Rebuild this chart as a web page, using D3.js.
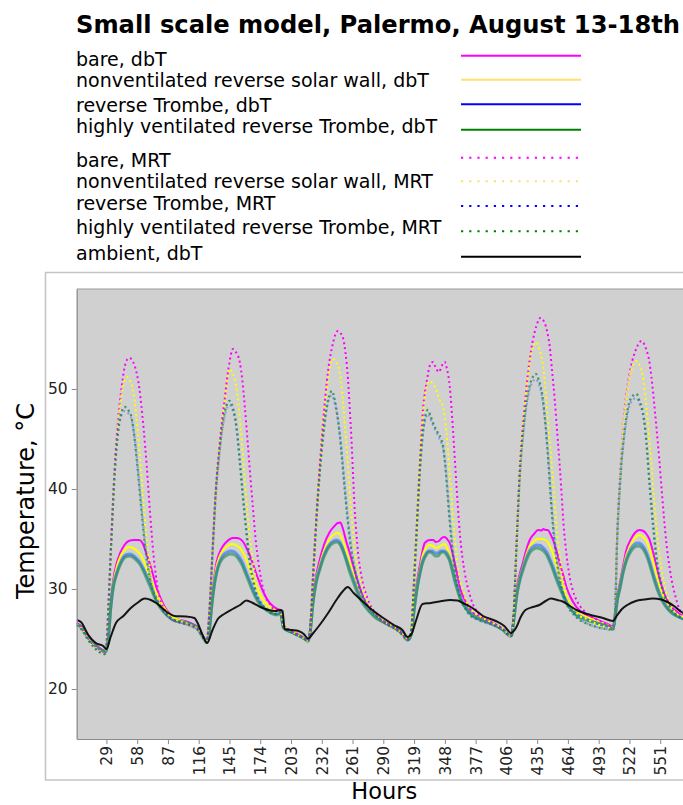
<!DOCTYPE html>
<html><head><meta charset="utf-8">
<script src="https://cdn.jsdelivr.net/npm/d3@7"></script>
<style>
body{margin:0;background:#fff;}
svg{display:block;font-family:"DejaVu Sans",sans-serif;}
</style>
</head><body>
<svg id="chart" width="683" height="805"></svg>
<script>
// ---------------- DATA ----------------
const chartTitle = "Small scale model, Palermo, August 13-18th";
const xLabel = "Hours";
const yLabel = "Temperature, °C";
const xTickValues = [29,58,87,116,145,174,203,232,261,290,319,348,377,406,435,464,493,522,551];
const yTickValues = [20,30,40,50];
const xDomain = [1, 577];
const yDomain = [15, 60];

const seriesLabels = [
  "bare, dbT",
  "nonventilated reverse solar wall, dbT",
  "reverse Trombe, dbT",
  "highly ventilated reverse Trombe, dbT",
  "bare, MRT",
  "nonventilated reverse solar wall, MRT",
  "reverse Trombe, MRT",
  "highly ventilated reverse Trombe, MRT",
  "ambient, dbT"
];

// [hour, °C]
const bareDbT = [[1,26.6],[6,26.2],[12,25.2],[18,24.5],[24,24.0],[28,23.8],[29.5,24.2],[31,25.4],[33,28.4],[35.5,30.9],[38.5,32.5],[42,33.6],[46,34.4],[50,34.8],[55,34.9],[60,34.9],[63,34.6],[66.5,33.6],[70,32.5],[73,31.4],[76,30.2],[79.5,29.2],[84,28.2],[89,27.5],[95,27.0],[103,26.8],[110,26.5],[116,26.1],[120,25.3],[123.5,24.8],
[126,26.0],[128,28.5],[130.5,31.0],[132.7,32.6],[135.5,33.6],[138.9,34.3],[143,34.8],[148,35.1],[152,35.1],[155,35.0],[158,34.7],[161,34.1],[164,33.4],[167.2,32.5],[170,31.6],[173.5,30.6],[176.5,29.8],[179.8,29.1],[183,28.6],[186,28.3],[190,28.0],[193,27.9],[196,26.3],[203,25.8],[211,25.4],[216,25.0],[219,24.8],
[221,25.7],[223.7,29.0],[226.5,31.2],[230,32.9],[234,34.4],[239.5,35.7],[244,36.3],[247,36.6],[249.5,36.65],[252,36.0],[255,34.8],[258.4,33.6],[261.5,32.4],[264.7,31.2],[268,30.1],[270.9,29.2],[275,28.3],[280.3,27.5],[286,27.0],[293,26.6],[300,26.2],[307,25.6],[313,25.0],
[316.5,25.6],[318.5,27.8],[321.5,30.5],[324.3,32.3],[327,33.8],[329,34.6],[333.7,34.9],[337,34.9],[339.5,34.7],[342.5,34.8],[345,35.1],[347.9,35.2],[350,35.0],[352.6,34.6],[355,33.7],[357.3,32.6],[360,31.3],[362.1,30.2],[365,29.3],[368.4,28.6],[374.5,27.6],[381,27.2],[393,26.6],[403,26.0],[410,25.3],
[411,25.4],[413,27.3],[416,30.2],[418.8,31.6],[421.7,32.7],[425,34.0],[428,34.9],[432,35.5],[436,35.9],[439,35.85],[441,36.0],[443,35.9],[445,35.9],[447.5,35.5],[450,34.9],[453,33.9],[456.3,32.6],[459.5,31.4],[462.6,30.2],[466,29.3],[472,28.2],[481.4,27.4],[494,26.8],[503.4,26.4],[506.5,26.2],
[508.5,27.5],[510.5,29.3],[513,30.6],[516,32.3],[519.1,33.9],[523,34.9],[527,35.6],[531.4,35.9],[535,35.8],[538,35.5],[541.1,34.9],[544,33.8],[547.4,32.3],[550.5,31.0],[553.6,29.9],[557,29.0],[561.6,28.2],[566,27.8],[571,27.4],[577,27.2]];

const nonventDbT = [[1,26.5],[6,26.1],[12,25.1],[18,24.4],[24,23.9],[28,23.7],[29.5,24.1],[31,25.3],[33,28.2],[35.5,30.6],[38.5,32.1],[42,33.2],[46,33.9],[50,34.2],[54,34.1],[58,33.8],[62,33.3],[66,32.3],[69.8,31.2],[73,30.3],[76.2,29.6],[82.5,28.3],[88,27.5],[95,27.0],[103,26.7],[110,26.4],[116,26.0],[120,25.2],[123.5,24.8],
[126,25.9],[128,28.3],[130.5,30.7],[132.7,32.2],[135.5,33.2],[138.9,33.9],[143,34.3],[147,34.5],[151,34.4],[155,34.1],[158,33.6],[161,32.9],[164,32.0],[167.2,31.1],[170,30.3],[173.5,29.5],[177,28.9],[181,28.4],[186,28.0],[190,27.8],[193,27.8],[196,26.3],[203,25.8],[211,25.4],[216,25.0],[219,24.8],
[221,25.6],[223.7,28.8],[226.5,30.9],[230,32.4],[234,33.8],[239.5,35.0],[244,35.5],[247,35.6],[249.5,35.4],[252,34.8],[255,33.8],[258.4,32.6],[261.5,31.5],[264.7,30.4],[268,29.5],[270.9,28.8],[275,28.1],[280.3,27.4],[286,26.9],[293,26.5],[300,26.1],[307,25.5],[313,24.9],
[316.5,25.5],[318.5,27.6],[321.5,30.2],[324.3,31.9],[327,33.3],[329,33.9],[333.7,34.4],[337,34.3],[339.5,34.1],[342.5,34.2],[345,34.4],[347.9,34.5],[350,34.1],[352.6,33.4],[355,32.4],[357.3,31.3],[360,30.2],[362.1,29.4],[365,28.7],[368.4,28.1],[374.5,27.4],[381,27.1],[393,26.5],[403,25.9],[410,25.3],
[411,25.4],[413,27.1],[416,29.9],[418.8,31.3],[421.7,32.3],[425,33.5],[428,34.3],[432,34.8],[436,35.0],[440,35.0],[443,34.9],[445,34.7],[447.5,34.2],[450,33.5],[453,32.4],[456.3,31.2],[459.5,30.1],[462.6,29.2],[466,28.5],[472,27.7],[481.4,27.2],[494,26.7],[503.4,26.3],[506.5,26.1],
[508.5,27.4],[510.5,29.1],[513,30.4],[516,32.0],[519.1,33.4],[523,34.4],[527,35.1],[531.4,35.4],[535,35.2],[538,34.8],[541.1,34.0],[544,32.9],[547.4,31.4],[550.5,30.2],[553.6,29.3],[557,28.6],[561.6,27.9],[566,27.5],[571,27.2],[577,27.0]];

const trombeDbT = [[1,26.5],[6,26.1],[12,25.1],[18,24.4],[24,23.9],[28,23.7],[29.5,24.1],[31,25.2],[33,28.1],[35.5,30.3],[38.5,31.6],[42,32.6],[45,33.2],[48,33.45],[51,33.5],[55,33.3],[58,33.0],[60.4,32.7],[63.5,32.1],[66.7,31.4],[70,30.6],[73,29.8],[76,29.0],[79.3,28.4],[85.6,27.5],[92,26.9],[100,26.7],[108,26.5],[115,26.1],[120,25.2],[123.5,24.7],
[126,25.8],[128,28.1],[130.5,30.4],[132.7,31.7],[135.5,32.7],[139,33.4],[143,33.7],[146,33.8],[150,33.7],[153.5,33.3],[157,32.7],[160,31.9],[163,31.1],[166,30.3],[169,29.5],[172,28.9],[176,28.3],[181,27.9],[186,27.6],[190,27.5],[193,27.6],[196,26.1],[203,25.7],[211,25.3],[216,25.0],[219,24.8],
[221,25.6],[223.7,28.7],[226.5,30.7],[230,32.1],[234,33.4],[239.5,34.5],[243,34.8],[246,34.9],[248.9,34.7],[252,34.0],[255.2,33.0],[258,32.1],[261.4,31.1],[264.5,30.2],[267.8,29.3],[271,28.7],[277.2,27.8],[283,27.2],[290,26.7],[297,26.3],[304,25.9],[309,25.4],[313,24.9],
[316.5,25.5],[318.5,27.5],[321.5,29.9],[324.3,31.6],[327,32.8],[330,33.5],[333,33.8],[336,33.8],[339,33.6],[341.5,33.6],[344,33.8],[346.5,33.8],[349,33.7],[352.6,33.0],[355,32.1],[357.3,31.1],[360,30.1],[362.5,29.2],[365.5,28.6],[369,28.0],[374.5,27.4],[381,27.0],[393,26.5],[403,25.9],[410,25.3],
[411,25.4],[413,27.0],[416,29.6],[418.8,31.1],[421.7,32.2],[425,33.2],[428,33.9],[432,34.3],[435,34.4],[438,34.35],[441,34.1],[444,33.7],[447,33.0],[450,32.2],[453,31.3],[456.3,30.4],[459.5,29.5],[462.6,28.8],[466,28.2],[472,27.5],[481.4,27.0],[494,26.5],[503.4,26.2],[506.5,26.0],
[508.5,27.2],[510.5,28.9],[513,30.2],[516,31.8],[519.1,33.0],[523,34.0],[527,34.5],[530,34.6],[533,34.5],[536,34.1],[539,33.4],[542,32.4],[545,31.3],[548,30.3],[551,29.4],[554.5,28.7],[558,28.1],[563,27.6],[571,27.1],[577,26.9]];

const highVentDbT = [[1,26.5],[6,26.1],[12,25.1],[18,24.4],[24,23.9],[28,23.7],[29.5,24.1],[31,25.2],[33,28.0],[35.5,30.2],[38.5,31.4],[42,32.4],[45,33.0],[48,33.25],[51,33.3],[55,33.1],[58,32.8],[60.4,32.5],[63.5,31.9],[66.7,31.1],[70,30.3],[73,29.5],[76,28.8],[79.3,28.2],[85.6,27.4],[92,26.9],[100,26.7],[108,26.5],[115,26.1],[120,25.2],[123.5,24.7],
[126,25.8],[128,28.0],[130.5,30.2],[132.7,31.5],[135.5,32.5],[139,33.1],[143,33.4],[146,33.5],[150,33.4],[153.5,33.0],[157,32.4],[160,31.6],[163,30.8],[166,30.0],[169,29.3],[172,28.7],[176,28.2],[181,27.8],[186,27.5],[190,27.4],[193,27.6],[196,26.1],[203,25.7],[211,25.3],[216,25.0],[219,24.8],
[221,25.6],[223.7,28.6],[226.5,30.5],[230,31.9],[234,33.2],[239.5,34.3],[243,34.6],[246,34.7],[248.9,34.5],[252,33.8],[255.2,32.8],[258,31.8],[261.4,30.8],[264.5,29.9],[267.8,29.1],[271,28.5],[277.2,27.7],[283,27.1],[290,26.7],[297,26.3],[304,25.9],[309,25.4],[313,24.9],
[316.5,25.5],[318.5,27.4],[321.5,29.8],[324.3,31.4],[327,32.6],[330,33.3],[333,33.7],[336,33.6],[339,33.3],[341.5,33.3],[344,33.6],[346.5,33.7],[349,33.5],[352.6,32.8],[355,31.8],[357.3,30.8],[360,29.8],[362.5,29.0],[365.5,28.4],[369,27.9],[374.5,27.3],[381,27.0],[393,26.5],[403,25.9],[410,25.3],
[411,25.4],[413,26.9],[416,29.5],[418.8,30.9],[421.7,31.9],[425,32.9],[428,33.6],[432,34.0],[435,34.1],[438,34.0],[441,33.8],[444,33.4],[447,32.7],[450,31.9],[453,31.0],[456.3,30.1],[459.5,29.3],[462.6,28.6],[466,28.1],[472,27.4],[481.4,26.9],[494,26.5],[503.4,26.2],[506.5,26.0],
[508.5,27.2],[510.5,28.8],[513,30.0],[516,31.6],[519.1,32.8],[523,33.7],[527,34.2],[530,34.3],[533,34.2],[536,33.8],[539,33.1],[542,32.1],[545,31.0],[548,30.0],[551,29.2],[554.5,28.5],[558,28.0],[563,27.5],[571,27.1],[577,26.9]];

const bareMRT = [[1,26.6],[6,26.1],[12,25.1],[18,24.3],[24,23.8],[27.5,23.6],[29,24.3],[31,28.6],[33.5,34.8],[37,42.5],[40,46.9],[43,49.9],[46,52.1],[49,53.0],[51,53.1],[53,52.9],[56,52.2],[60,50.1],[64,46.1],[67,42.3],[70,37.8],[73.5,33.3],[77.5,30.0],[84,27.9],[92,26.9],[100,26.6],[108,26.4],[115,26.0],[120,25.2],[123.5,24.7],
[126,27.8],[129,33.8],[132,39.8],[135.8,44.6],[140.5,49.0],[144,52.0],[148.4,54.0],[151,53.7],[154.7,52.7],[157,51.0],[159.4,48.3],[162.5,44.2],[165,40.8],[167.2,38.0],[170,34.6],[172,32.9],[175,30.9],[178,29.5],[183,28.5],[189,27.8],[193,27.8],[196,26.4],[203,25.8],[211,25.4],[216,25.0],[219,24.8],
[221,26.0],[223.7,31.2],[228.4,39.7],[233.1,46.5],[237.8,51.7],[242.6,54.6],[245,55.5],[247.3,55.8],[249.5,55.6],[252,55.1],[254.5,53.5],[256.7,51.0],[258.5,47.8],[260,44.9],[261.5,41.4],[263,38.0],[264.6,35.6],[266.2,33.6],[268.5,31.8],[270.9,30.5],[274,29.4],[277.2,28.5],[282,27.7],[286.6,27.1],[293,26.6],[300,26.2],[307,25.6],[313,25.0],
[316.5,25.9],[318,28.9],[321.2,35.6],[324.3,42.3],[327.4,47.9],[331.2,50.9],[333.7,52.3],[336.9,52.7],[339.5,52.1],[342.5,51.7],[345,52.3],[347.9,52.7],[350,52.0],[352.6,50.3],[355.8,45.7],[359,40.3],[362.1,35.6],[364.5,33.2],[366.8,31.6],[373,28.9],[380.9,27.4],[393.4,26.6],[403,26.0],[410,25.3],
[411,25.4],[412.5,27.0],[415.5,34.5],[418.6,42.0],[422.3,47.2],[426.4,51.6],[430.5,54.6],[434.3,56.3],[438.1,57.1],[442.1,56.6],[444.5,55.7],[446.8,54.3],[449,51.9],[451.6,48.9],[454,45.5],[456.3,42.3],[458,39.6],[460,36.3],[462.5,33.6],[465,31.6],[468,30.1],[472,28.9],[476,28.2],[481.4,27.6],[494,26.8],[503.4,26.3],[506.5,26.0],
[508.5,28.0],[510.3,35.0],[513.5,42.0],[517.5,47.9],[522.2,51.6],[526.9,53.6],[530,54.4],[533.3,54.8],[538,53.9],[540.5,52.9],[542.7,51.2],[545,48.9],[547.4,46.2],[550,43.1],[552.1,40.3],[554.5,37.2],[556.8,34.6],[560,32.0],[563.1,30.2],[566,29.0],[569.4,27.9],[573,27.5],[577,27.2]];

const nonventMRT = [[1,26.5],[6,26.0],[12,25.0],[18,24.2],[24,23.7],[27.5,23.5],[29,24.2],[31,28.5],[33.5,34.6],[37,42.2],[40,46.4],[43,49.2],[46,50.8],[48.5,51.2],[51,50.9],[54.1,49.9],[57.3,47.2],[60.4,43.6],[63.5,39.2],[66.7,35.2],[69,33.0],[71.4,31.2],[74.5,29.8],[77.7,28.9],[85.6,27.6],[93,27.0],[100,26.7],[108,26.4],[115,26.0],[120,25.2],[123.5,24.7],
[126,27.7],[129,33.6],[132,39.6],[135.8,44.4],[140.5,48.6],[142.8,50.8],[145.2,52.0],[148,51.6],[151,50.5],[154,48.0],[157,44.3],[160,40.0],[163.5,35.8],[166,33.6],[168,32.0],[171,30.5],[174,29.4],[182,28.0],[189,27.7],[193,27.8],[196,26.3],[203,25.8],[211,25.3],[216,25.0],[219,24.8],
[221,25.9],[223.7,31.0],[228.4,39.5],[233.1,46.2],[237.8,50.9],[240,52.3],[242.6,53.0],[245.5,52.7],[248.9,51.7],[251.3,49.6],[253.7,46.5],[256,43.3],[258.4,39.7],[260.8,36.5],[263.1,33.9],[266,31.9],[269.4,30.5],[273,29.3],[277.2,28.3],[282,27.6],[288,27.0],[293,26.6],[300,26.2],[307,25.6],[313,25.0],
[316.5,25.9],[318,28.8],[321.2,35.5],[324.3,42.1],[327.4,47.3],[330.5,50.0],[333.7,50.8],[337,50.5],[340,49.9],[343.2,48.9],[346.3,48.2],[348,47.2],[349.5,45.7],[352.6,41.6],[355.7,37.2],[359.5,32.9],[362,31.0],[365.1,29.9],[368.5,28.7],[373,27.9],[381,27.3],[393,26.6],[403,26.0],[410,25.3],
[411,25.4],[412.5,26.9],[415.5,34.3],[418.6,41.8],[422.3,47.0],[426.4,51.3],[429.5,53.6],[432,54.4],[434.3,54.7],[437,54.0],[440.5,52.3],[443.7,48.9],[446,45.8],[448.4,42.9],[451,39.6],[453.2,36.3],[456,33.5],[458.8,31.2],[462,29.8],[465.7,28.6],[470,27.9],[475.1,27.3],[482,27.0],[490.9,26.5],[500,26.2],[506.5,26.0],
[508.5,27.9],[510.3,34.8],[513.5,41.8],[517.5,47.6],[522.2,51.2],[525,52.3],[528.5,52.8],[531.5,52.4],[534.8,51.2],[538,48.2],[540,46.0],[541.8,43.6],[545.8,38.3],[548,35.6],[550.5,33.2],[553.5,31.2],[556.8,29.6],[560.5,28.5],[564.6,27.7],[571,27.3],[577,27.1]];

const trombeMRT = [[1,26.4],[6,25.9],[12,24.9],[18,24.1],[24,23.6],[27.5,23.5],[29,24.2],[31,28.4],[33.5,34.5],[37,41.8],[40,45.6],[43,47.3],[46.3,47.8],[49.5,47.6],[52.6,47.0],[55.7,45.0],[58.8,41.9],[62,38.3],[65.1,35.0],[67.5,32.9],[69.8,31.5],[73,30.0],[76.2,29.0],[84,27.6],[92,26.9],[100,26.6],[108,26.3],[115,25.9],[120,25.1],[123.5,24.6],
[126,27.6],[129,33.5],[132,39.3],[135.8,43.8],[139,46.5],[142,47.9],[145,48.4],[148,47.9],[151.5,46.2],[154.5,43.2],[157.5,39.7],[161,35.9],[163,33.9],[165,32.3],[167.5,30.9],[170,29.8],[177,28.3],[184,27.6],[189,27.5],[193,27.7],[196,26.2],[203,25.7],[211,25.3],[216,25.0],[219,24.8],
[221,25.9],[223.7,31.0],[228.4,39.2],[233.1,45.0],[236,47.5],[239,49.0],[241.5,49.4],[244.2,48.6],[246.5,47.4],[248.9,45.6],[251.2,43.2],[253.6,40.4],[256,37.7],[258.4,35.4],[260.7,33.5],[263.1,32.1],[266,30.8],[269.4,29.6],[273,28.8],[277.2,28.1],[282,27.5],[288,26.9],[293,26.5],[300,26.1],[307,25.5],[313,24.9],
[316.5,25.9],[318,28.7],[321.2,35.2],[324.3,41.4],[327.4,45.5],[330,47.1],[332.1,47.5],[334.5,47.0],[336.9,46.4],[339.5,45.8],[341.6,45.3],[344.8,44.6],[346.5,44.0],[347.9,43.0],[349.5,41.3],[351,39.3],[352.6,37.2],[354.2,35.3],[356.2,33.3],[358.2,31.5],[361,30.0],[363.6,29.0],[367,28.2],[371.4,27.5],[380,26.9],[393,26.4],[403,25.9],[410,25.3],
[411,25.4],[412.5,26.8],[415.5,34.0],[418.6,41.1],[422.3,46.0],[426.4,49.2],[430,50.6],[433.7,51.0],[436.5,50.5],[439,49.6],[442.2,47.2],[445.2,43.6],[448.4,38.7],[450.5,36.0],[452.5,34.0],[455,32.0],[457.9,30.4],[461,29.2],[464.1,28.3],[469,27.6],[475.1,27.0],[483,26.5],[490.9,26.2],[500,26.0],[506.5,25.9],
[508.5,27.8],[510.3,34.4],[513.5,41.0],[517.5,45.6],[521,47.9],[525,48.9],[528.5,49.1],[531.5,48.5],[534.8,47.4],[536.5,46.3],[538,44.8],[541.1,40.6],[543,38.2],[544.9,36.0],[546.8,34.0],[548.9,32.3],[552,30.6],[555.2,29.4],[559,28.5],[563.1,27.8],[571,27.1],[577,26.9]];

const highVentMRT = [[1,26.4],[6,25.9],[12,24.9],[18,24.1],[24,23.6],[27.5,23.5],[29,24.2],[31,28.4],[33.5,34.5],[37,41.9],[40,45.8],[43,47.6],[46.3,48.2],[49.5,47.9],[52.6,47.2],[55.7,44.9],[58.8,41.6],[62,37.9],[65.1,34.6],[67.5,32.6],[69.8,31.2],[73,29.8],[76.2,28.9],[84,27.6],[92,26.9],[100,26.6],[108,26.3],[115,25.9],[120,25.1],[123.5,24.6],
[126,27.6],[129,33.5],[132,39.4],[135.8,44.0],[139,46.8],[142,48.3],[145,48.8],[148,48.2],[151.5,46.3],[154.5,43.0],[157.5,39.4],[161,35.6],[163,33.6],[165,32.0],[167.5,30.7],[170,29.6],[177,28.2],[184,27.6],[189,27.5],[193,27.7],[196,26.2],[203,25.7],[211,25.3],[216,25.0],[219,24.8],
[221,25.9],[223.7,31.0],[228.4,39.3],[233.1,45.2],[236,47.8],[239,49.3],[241.5,49.8],[244.2,48.9],[246.5,47.5],[248.9,45.5],[251.2,42.9],[253.6,40.0],[256,37.3],[258.4,35.0],[260.7,33.2],[263.1,31.9],[266,30.6],[269.4,29.5],[273,28.7],[277.2,28.1],[282,27.5],[288,26.9],[293,26.5],[300,26.1],[307,25.5],[313,24.9],
[316.5,25.9],[318,28.7],[321.2,35.3],[324.3,41.6],[327.4,45.8],[330,47.5],[332.1,47.9],[334.5,47.3],[336.9,46.6],[339.5,46.0],[341.6,45.6],[344.8,44.9],[346.5,44.2],[347.9,42.9],[349.5,41.0],[351,38.9],[352.6,36.8],[354.2,34.9],[356.2,32.9],[358.2,31.2],[361,29.8],[363.6,28.9],[367,28.1],[371.4,27.4],[380,26.9],[393,26.4],[403,25.9],[410,25.3],
[411,25.4],[412.5,26.8],[415.5,34.1],[418.6,41.3],[422.3,46.3],[426.4,49.6],[430,51.0],[433.7,51.5],[436.5,50.9],[439,49.9],[442.2,47.2],[445.2,43.3],[448.4,38.3],[450.5,35.6],[452.5,33.6],[455,31.7],[457.9,30.2],[461,29.0],[464.1,28.2],[469,27.5],[475.1,26.9],[483,26.5],[490.9,26.2],[500,26.0],[506.5,25.9],
[508.5,27.8],[510.3,34.5],[513.5,41.2],[517.5,45.9],[521,48.3],[525,49.3],[528.5,49.5],[531.5,48.8],[534.8,47.6],[536.5,46.3],[538,44.6],[541.1,40.2],[543,37.8],[544.9,35.6],[546.8,33.6],[548.9,31.9],[552,30.4],[555.2,29.2],[559,28.4],[563.1,27.7],[571,27.1],[577,26.9]];

const ambientDbT = [[1,26.9],[5,26.7],[12,25.4],[19,24.6],[26,24.3],[29,24.0],[33,25.2],[38,26.6],[45,27.3],[52,28.1],[58,28.6],[65,29.05],[71,28.9],[76,28.6],[86,27.7],[93,27.3],[104,27.25],[112,27.1],[115,26.6],[120,25.3],[124,24.6],
[129,25.9],[134,27.0],[140,27.5],[148,28.0],[155,28.4],[161,28.85],[167,28.6],[174,28.2],[182,27.9],[188,27.8],[193,27.9],[195,27.8],[197,26.0],[204,25.9],[210,25.8],[215,25.5],[219,25.05],
[224,25.6],[230,26.4],[238,27.6],[247,29.1],[252,29.8],[256.5,30.2],[262,29.6],[268,29.0],[279,27.95],[290,27.1],[300,26.4],[308,25.9],[313,25.2],
[317,25.6],[321,26.9],[327,28.5],[335,28.6],[345,28.8],[353,28.9],[360,28.85],[365,28.6],[374,28.1],[384,27.3],[396,26.8],[404,26.3],[410.5,25.6],
[415,26.1],[420,27.3],[424,27.9],[431,28.2],[437,28.4],[443,28.8],[448,29.05],[454,28.9],[459,28.75],[466,28.3],[472,27.9],[484,27.45],[497,27.1],[506.5,26.8],
[510,27.3],[515,28.0],[520,28.4],[528,28.8],[536,28.95],[544,29.05],[552,28.95],[558,28.7],[564,28.3],[571,27.7],[577,27.4]];

const seriesValues = [bareDbT, nonventDbT, trombeDbT, highVentDbT, bareMRT, nonventMRT, trombeMRT, highVentMRT, ambientDbT];

// ---------------- STYLE / LAYOUT ----------------
const styles = [
  {color:"#ff00ff", legendColor:"#ff00ff", dash:null, width:2, opacity:1},
  {color:"#ffff00", legendColor:"#ffdf6e", dash:null, width:2, opacity:1},
  {color:"#2a6cff", legendColor:"#0000ff", dash:null, width:3, opacity:0.6},
  {color:"#1a8a50", legendColor:"#008000", dash:null, width:3, opacity:0.6},
  {color:"#ff00ff", legendColor:"#ff00ff", dash:"2,3", width:2, opacity:1},
  {color:"#ffff00", legendColor:"#ffdf6e", dash:"2,3", width:2, opacity:1},
  {color:"#2a5fff", legendColor:"#0000ff", dash:"2,3", width:2.2, opacity:0.45},
  {color:"#0f8040", legendColor:"#008000", dash:"2,3", width:2.3, opacity:0.75},
  {color:"#000000", legendColor:"#000000", dash:null, width:2, opacity:0.9}
];
const legendTextBaselines = [66, 86.7, 111.7, 133.3, 167.3, 187.6, 209.6, 234.3, 260];
const legendLineY = [55.7, 79.7, 104.3, 129.7, 157.7, 181.3, 206, 231.3, 256.7];

const svg = d3.select("#chart");
const plot = {left:76.7, right:687.8, top:289, bottom:739};

const x = d3.scaleLinear().domain(xDomain).range([plot.left, plot.right]);
const y = d3.scaleLinear().domain(yDomain).range([plot.bottom, plot.top]);

// outer frame
svg.append("rect").attr("x",45.5).attr("y",272.5).attr("width",720).attr("height",507.5)
  .attr("fill","none").attr("stroke","#c4c4c4").attr("stroke-width",1.5);

// plot bg
svg.append("rect").attr("x",plot.left).attr("y",plot.top)
  .attr("width",plot.right-plot.left).attr("height",plot.bottom-plot.top).attr("fill","#d0d0d0");

svg.append("defs").append("clipPath").attr("id","clip")
  .append("rect").attr("x",plot.left).attr("y",plot.top)
  .attr("width",plot.right-plot.left).attr("height",plot.bottom-plot.top);

const line = d3.line().x(d=>x(d[0])).y(d=>y(d[1])).curve(d3.curveMonotoneX);
const g = svg.append("g").attr("clip-path","url(#clip)");
seriesValues.forEach((vals,i)=>{
  const s = styles[i];
  g.append("path").datum(vals).attr("d",line)
    .attr("fill","none").attr("stroke",s.color).attr("stroke-width",s.width)
    .attr("stroke-opacity",s.opacity).attr("stroke-dasharray",s.dash)
    .attr("stroke-linejoin","round");
});

// top spine
svg.append("line").attr("x1",plot.left).attr("x2",plot.right+20).attr("y1",plot.top).attr("y2",plot.top)
  .attr("stroke","#9a9a9a").attr("stroke-width",1.2);

// axes
const xAxis = d3.axisBottom(x).tickValues(xTickValues).tickSize(5).tickSizeOuter(0).tickFormat(d3.format("d"));
const gx = svg.append("g").attr("transform",`translate(0,${plot.bottom})`).call(xAxis);
gx.select(".domain").attr("stroke","#8a8a8a").attr("stroke-width",1.2);
gx.selectAll(".tick line").attr("stroke","#8a8a8a");
gx.selectAll(".tick text")
  .attr("transform","rotate(-90)").attr("x",-7).attr("y",0).attr("dy","0.35em")
  .attr("text-anchor","end").attr("font-size",15.5).attr("fill","#222")
  .attr("font-family","DejaVu Sans");

const yAxis = d3.axisLeft(y).tickValues(yTickValues).tickSize(5).tickSizeOuter(0).tickPadding(4);
const gy = svg.append("g").attr("transform",`translate(${plot.left},0)`).call(yAxis);
gy.select(".domain").attr("stroke","#8a8a8a").attr("stroke-width",1.2);
gy.selectAll(".tick line").attr("stroke","#8a8a8a");
gy.selectAll(".tick text").attr("font-size",15.5).attr("fill","#222").attr("font-family","DejaVu Sans");

// axis titles
svg.append("text").attr("x",(plot.left+plot.right)/2+2).attr("y",799)
  .attr("text-anchor","middle").attr("font-size",22.5).attr("fill","#000").text(xLabel);
svg.append("text").attr("transform","translate(33.5,501) rotate(-90)")
  .attr("text-anchor","middle").attr("font-size",24).attr("fill","#000").text(yLabel);

// title
svg.append("text").attr("x",76).attr("y",33).attr("font-size",24.2).attr("font-weight","bold")
  .attr("fill","#000").text(chartTitle);

// legend
seriesLabels.forEach((lab,i)=>{
  const s = styles[i];
  svg.append("text").attr("x",76).attr("y",legendTextBaselines[i]).attr("font-size",19)
    .attr("fill","#000").text(lab);
  svg.append("line").attr("x1",461).attr("x2",581).attr("y1",legendLineY[i]).attr("y2",legendLineY[i])
    .attr("stroke",s.legendColor).attr("stroke-width",2)
    .attr("stroke-dasharray", s.dash ? "2.2,6" : null);
});
</script>
</body></html>
